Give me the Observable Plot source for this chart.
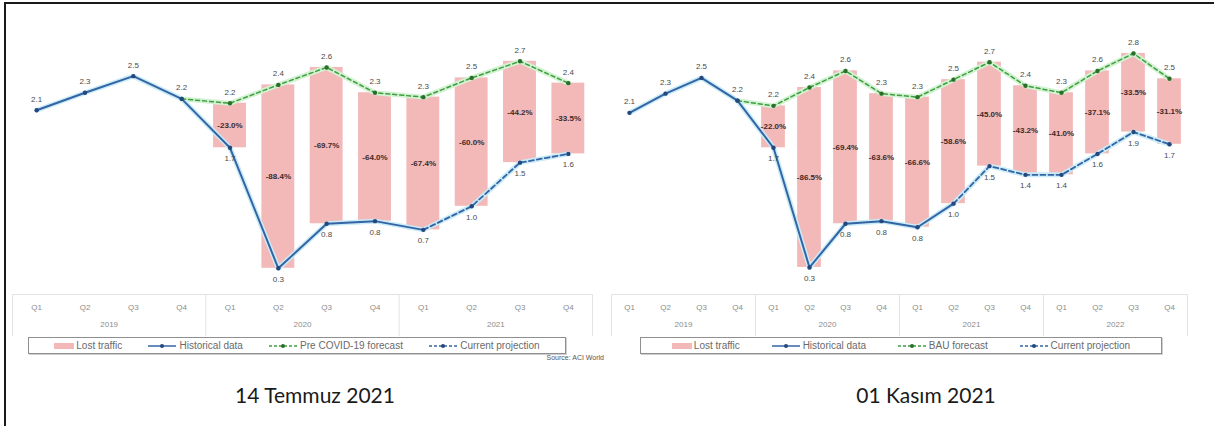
<!DOCTYPE html>
<html><head><meta charset="utf-8">
<script src="https://cdn.jsdelivr.net/npm/d3@7"></script>
<script src="https://cdn.jsdelivr.net/npm/@observablehq/plot@0.6"></script>
<style>
body{margin:0;background:#fff;font-family:"Liberation Sans",Arial,sans-serif;}
#page{position:relative;width:1214px;height:426px;overflow:hidden;background:#fff;}
#frameline{position:absolute;left:4px;top:2px;width:1230px;height:440px;border-top:2px solid #1a1a1a;border-left:2px solid #1a1a1a;z-index:5;pointer-events:none;}
.panel{position:absolute;top:0;width:610px;height:426px;}
.panel svg.plot{position:absolute;left:0;top:0;background:transparent;}
.legend{position:absolute;height:15px;border:1px solid #8f8f8f;box-shadow:1px 1px 0 #cfcfcf;display:flex;align-items:center;justify-content:space-evenly;font-size:10px;color:#6a6a6a;background:#fff;white-space:nowrap;}
.legend .item{display:flex;align-items:center;gap:2px;}
.source{position:absolute;font-size:7px;color:#555;text-align:right;}
.title{position:absolute;font-family:Lato,"Liberation Sans",sans-serif;font-size:21px;color:#1a1a1a;text-align:center;}
</style></head><body>
<div id="page">
  <div id="frameline"></div>
  <div id="left" class="panel" style="left:0px"></div>
  <div id="right" class="panel" style="left:604px"></div>
</div>
<script>
// ---- data ----
const quarters = ["Q1","Q2","Q3","Q4"];

const yearsLeft = ["2019","2020","2021"];
const actualLeft = [2.11,2.31,2.50,2.24,1.68,0.30,0.81,0.84,0.74,1.01,1.51,1.61];
const historicalEndLeft = 8;
const forecastLeft = [null,null,null,2.24,2.19,2.40,2.60,2.31,2.26,2.48,2.67,2.42];
const lostLeft = [null,null,null,null,"-23.0%","-88.4%","-69.7%","-64.0%","-67.4%","-60.0%","-44.2%","-33.5%"];
const legendLeft = ["Lost traffic","Historical data","Pre COVID-19 forecast","Current projection"];
const titleLeft = "14 Temmuz 2021";
const sourceLeft = "Source: ACI World";

const yearsRight = ["2019","2020","2021","2022"];
const actualRight = [2.08,2.30,2.48,2.22,1.68,0.31,0.81,0.84,0.77,1.04,1.47,1.37,1.37,1.61,1.86,1.72];
const historicalEndRight = 9;
const forecastRight = [null,null,null,2.22,2.16,2.37,2.56,2.30,2.26,2.46,2.66,2.39,2.31,2.56,2.76,2.47];
const lostRight = [null,null,null,null,"-22.0%","-86.5%","-69.4%","-63.6%","-66.6%","-58.6%","-45.0%","-43.2%","-41.0%","-37.1%","-33.5%","-31.1%"];
const legendRight = ["Lost traffic","Historical data","BAU forecast","Current projection"];
const titleRight = "01 Kasım 2021";

const C = {bar:"#f3b8b8", blue:"#3464a4", blueDot:"#24477d", green:"#3e9e3e", greenDot:"#2a6e2a", glowB:"#c9ecf7", glowG:"#d3f2d3", label:"#4a4a4a", axis:"#8c8c8c", grid:"#e3e3e3"};

function swatch(k){
  const s = d3.create("svg").attr("width", k===0?20:30).attr("height",8);
  if(k===0){ s.append("rect").attr("x",0).attr("y",1).attr("width",20).attr("height",6).attr("fill",C.bar); }
  else {
    const col = k===2?C.green:C.blue, dot = k===2?C.greenDot:C.blueDot;
    s.append("line").attr("x1",1).attr("x2",29).attr("y1",4).attr("y2",4).attr("stroke",col).attr("stroke-width",1.5).attr("stroke-dasharray",k===1?null:"3,2");
    s.append("circle").attr("cx",15).attr("cy",4).attr("r",2).attr("fill",dot);
  }
  return s.node();
}

function panel(el, {actual, histEnd, forecast, lost, years, ml, mr, barHalf, legend, legendBox, title, titleCenter, source}){
  const n = actual.length;
  const idx = d3.range(n);
  const hist = idx.filter(i => i <= histEnd).map(i => ({i, v: actual[i]}));
  const proj = idx.filter(i => i >= histEnd).map(i => ({i, v: actual[i]}));
  const all = idx.map(i => ({i, v: actual[i]}));
  const fc = idx.filter(i => forecast[i] != null).map(i => ({i, v: forecast[i]}));
  const bars = idx.filter(i => lost[i] != null).map(i => ({i, top: forecast[i], bottom: actual[i], label: lost[i]}));
  const upper = idx.map(i => lost[i] == null ? {i, v: actual[i]} : {i, v: forecast[i]});
  const lower = bars.map(b => ({i: b.i, v: b.bottom}));
  const H = 338, mt = 32, mb = 44;
  const chart = Plot.plot({
    width: 610, height: H, marginTop: mt, marginBottom: mb, marginLeft: ml, marginRight: mr,
    x: {domain: [-0.5, n - 0.5], axis: null},
    y: {domain: [0, 3], axis: null},
    style: {fontFamily: "Liberation Sans, Arial, sans-serif", background: "transparent"},
    marks: [
      Plot.frame({anchor: "bottom", stroke: C.grid}),
      Plot.ruleX(d3.range(years.length + 1).map(k => k * 4 - 0.5), {insetTop: H - mt - mb, insetBottom: -42, stroke: C.grid}),
      Plot.text(idx, {x: d => d, text: d => quarters[d % 4], frameAnchor: "bottom", dy: 15, fill: C.axis, fontSize: 8}),
      Plot.text(years, {x: (d, k) => k * 4 + 1.5, text: d => d, frameAnchor: "bottom", dy: 32, fill: C.axis, fontSize: 8}),
      Plot.rect(bars, {x1: d => d.i - barHalf, x2: d => d.i + barHalf, y1: "bottom", y2: "top", fill: C.bar}),
      Plot.line(fc, {x: "i", y: "v", stroke: C.glowG, strokeWidth: 5}),
      Plot.line(all, {x: "i", y: "v", stroke: C.glowB, strokeWidth: 5}),
      Plot.line(fc, {x: "i", y: "v", stroke: C.green, strokeWidth: 1.5, strokeDasharray: "4,3"}),
      Plot.line(hist, {x: "i", y: "v", stroke: C.blue, strokeWidth: 2}),
      Plot.line(proj, {x: "i", y: "v", stroke: C.blue, strokeWidth: 1.8, strokeDasharray: "5,3"}),
      Plot.dot(fc, {x: "i", y: "v", r: 2.2, fill: C.greenDot}),
      Plot.dot(all, {x: "i", y: "v", r: 2.2, fill: C.blueDot}),
      Plot.text(bars, {x: "i", y: d => (d.top + d.bottom) / 2, text: "label", fontSize: 8, fontWeight: "bold", fill: "#3d2b2b"}),
      Plot.text(upper, {x: "i", y: "v", text: d => d.v.toFixed(1), dy: -11, fontSize: 8, fill: C.label}),
      Plot.text(lower, {x: "i", y: "v", text: d => d.v.toFixed(1), dy: 11, fontSize: 8, fill: C.label})
    ]
  });
  el.appendChild(chart);
  const lg = document.createElement("div");
  lg.className = "legend";
  lg.style.left = legendBox[0] + "px"; lg.style.width = legendBox[1] + "px"; lg.style.top = "337px";
  legend.forEach((t, k) => {
    const it = document.createElement("div"); it.className = "item";
    it.appendChild(swatch(k));
    const sp = document.createElement("span"); sp.textContent = t; it.appendChild(sp);
    lg.appendChild(it);
  });
  el.appendChild(lg);
  if (source) {
    const s = document.createElement("div"); s.className = "source";
    s.style.right = "6px"; s.style.top = "354px"; s.textContent = source;
    el.appendChild(s);
  }
  const t = document.createElement("div"); t.className = "title";
  t.style.left = (titleCenter - 150) + "px"; t.style.width = "300px"; t.style.top = "382px";
  t.textContent = title;
  el.appendChild(t);
}

panel(document.getElementById("left"), {actual: actualLeft, histEnd: historicalEndLeft, forecast: forecastLeft, lost: lostLeft, years: yearsLeft,
  ml: 12, mr: 18, barHalf: 0.34, legend: legendLeft, legendBox: [28, 536], title: titleLeft, titleCenter: 315, source: sourceLeft});
panel(document.getElementById("right"), {actual: actualRight, histEnd: historicalEndRight, forecast: forecastRight, lost: lostRight, years: yearsRight,
  ml: 7, mr: 27, barHalf: 0.33, legend: legendRight, legendBox: [36, 520], title: titleRight, titleCenter: 322, source: null});
</script>
</body></html>
